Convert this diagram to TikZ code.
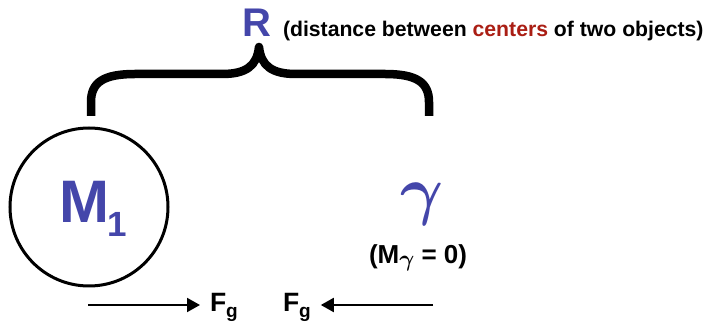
\documentclass[tikz,border=0pt]{standalone}
\usepackage{amsmath}
\usepackage{graphicx}
\usepackage{fontspec}
\setmainfont{Liberation Sans}
\usetikzlibrary{arrows.meta}
\definecolor{objblue}{RGB}{68,70,170}
\definecolor{ctrred}{RGB}{170,30,20}
\tikzset{
  txt/.style={anchor=base west, inner sep=0pt, outer sep=0pt},
  brace/.style={line width=8.5pt, line cap=butt, line join=round},
  force/.style={line width=2pt, -{Triangle[length=13pt,width=14pt]}},
}
\newcommand{\fs}[1]{\fontsize{#1}{#1}\selectfont}
\newcommand{\gsub}{{\normalsize\scalebox{2.3}{$\boldsymbol{\gamma}$}}}
\begin{document}
\begin{tikzpicture}[x=1pt,y=-1pt]
\useasboundingbox (0,0) rectangle (713,323);
% mass circle
\node[circle, draw, line width=3pt, minimum size=158pt, inner sep=0pt] (circ) at (89,207) {};
\node[txt, text=objblue, font=\bfseries\fs{60}] (m1) at (59,223) {M};
\node[txt, text=objblue, font=\bfseries\fs{35}] (m1sub) at (107,237) {1};
% brace
\draw[brace] (91,116) -- (91,102) .. controls (91,82) and (104,74) .. (135,74)
  -- (222,74) .. controls (246,74) and (257,66) .. (259,47)
  .. controls (261,66) and (272,74) .. (296,74)
  -- (385,74) .. controls (416,74) and (429,82) .. (429,102) -- (429,116);
% R label
\node[txt, text=objblue, font=\bfseries\fs{40}] (R) at (242,37) {R};
\node[txt, font=\bfseries\fs{21.2}] (desc) at (283,37) {(distance between \textcolor{ctrred}{centers} of two objects)};
% photon
\node[inner sep=0pt, text=objblue] (gam) at (422,204) {{\normalsize\scalebox{6.6}{$\boldsymbol{\gamma}$}}};
\node[txt, font=\bfseries\fs{26}] (mg) at (369,264) {(M\raisebox{-3pt}{\gsub} = 0)};
% forces
\node[txt, font=\bfseries\fs{26.5}] (f1) at (210,312) {F\raisebox{-6pt}{\fs{19}g}};
\node[txt, font=\bfseries\fs{26.5}] (f2) at (283,312) {F\raisebox{-6pt}{\fs{19}g}};
\coordinate (a1) at (88,305);
\coordinate (a2) at (433,305);
\draw[force] (a1) -- ([xshift=-10pt]f1.west |- a1);
\draw[force] (a2) -- ([xshift=10pt]f2.east |- a2);
\end{tikzpicture}
\end{document}
